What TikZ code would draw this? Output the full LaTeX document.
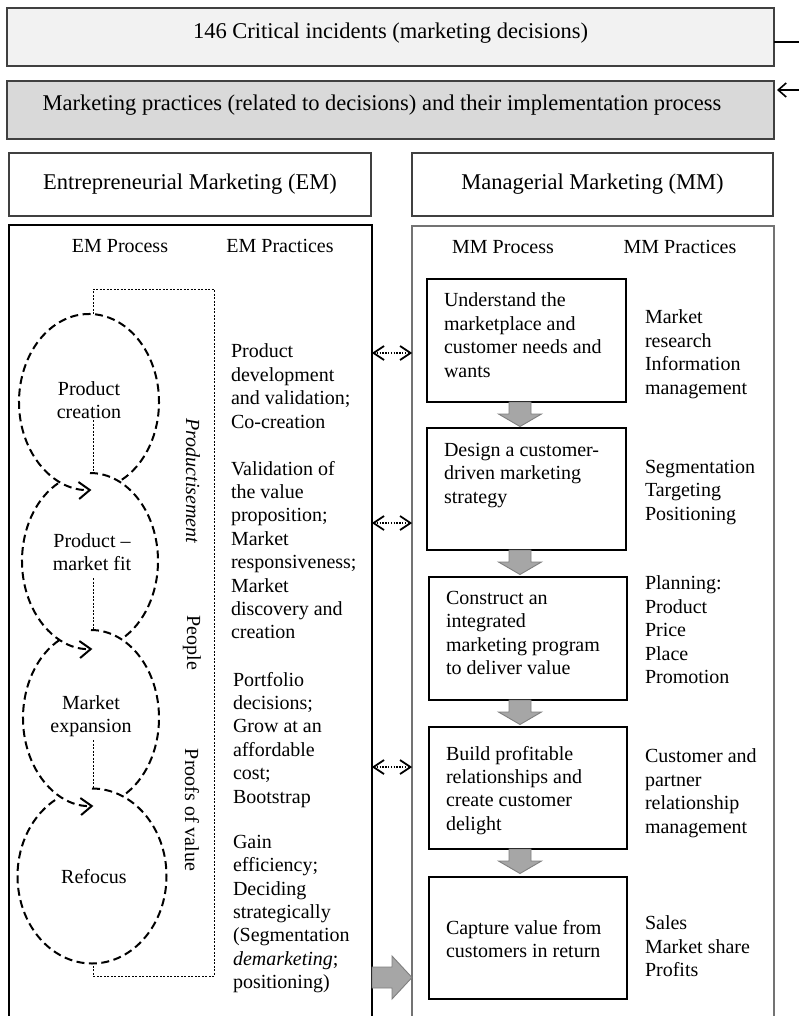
\documentclass[tikz,border=0pt]{standalone}
\usepackage{fontspec}
\setmainfont{Liberation Serif}
\usetikzlibrary{arrows.meta,calc}
\definecolor{lightbox}{HTML}{F2F2F2}
\definecolor{graybox}{HTML}{D9D9D9}
\definecolor{arrfill}{HTML}{A6A6A6}
\definecolor{arredge}{HTML}{7F7F7F}
\begin{document}
\begin{tikzpicture}[x=1pt,y=-1pt,
  every node/.style={inner sep=0pt, outer sep=0pt},
  body/.style={font=\fontsize{20}{23.4}\selectfont, align=left, anchor=north west},
  ctext/.style={font=\fontsize{20}{23.4}\selectfont, align=center},
  coltext/.style={font=\fontsize{20}{23.4}\selectfont},
  bigtext/.style={font=\fontsize{22.5}{26}\selectfont},
  frame/.style={draw=black!75, line width=1.4pt},
  mmbox/.style={draw=black, line width=1.5pt, fill=white},
  circ/.style={line width=2pt, dash pattern=on 8pt off 4.5pt},
  circarrow/.style={circ, -{Straight Barb[length=11pt,width=17pt,line width=2pt]}},
  bracket/.style={line width=0.8pt, dash pattern=on 2pt off 1.5pt},
  shaft/.style={line width=1.6pt, dash pattern=on 1.4pt off 1.4pt},
  head/.style={line width=1.8pt, solid, line join=miter},
  bigarrow/.style={fill=arrfill, draw=arredge, line width=0.9pt},
  downarr/.pic={\path[bigarrow] (-11,0) -- (11,0) -- (11,12) -- (21.5,12) -- (0,24.5) -- (-21.5,12) -- (-11,12) -- cycle;},
  rightarr/.pic={\path[bigarrow] (0,-10.5) -- (20,-10.5) -- (20,-21.5) -- (40,0) -- (20,21.5) -- (20,10.5) -- (0,10.5) -- cycle;}
]
\useasboundingbox (0,0) rectangle (799,1016);
\clip (0,0) rectangle (799,1016);
\fill[white] (0,0) rectangle (799,1016);

% top boxes
\node[frame, fill=lightbox, minimum width=767pt, minimum height=58pt] (top) at (390.5,37) {};
\node[bigtext] (toptext) at (390.5,33) {146 Critical incidents (marketing decisions)};
\node[frame, fill=graybox, minimum width=767pt, minimum height=58pt] (gbox) at (390.5,110) {};
\node[bigtext] (gtext) at (382,105) {Marketing practices (related to decisions) and their implementation process};
\coordinate (r1) at (799,42);
\coordinate (r2) at (799,90);
\draw[line width=1.6pt] (top.east |- r1) -- (r1);
\draw[line width=1.6pt, -{Straight Barb[length=8pt,width=14pt]}] (r2) -- ([xshift=3pt]gbox.east |- r2);

% headers
\node[frame, fill=white, minimum width=362pt, minimum height=63pt, bigtext] (emhead) at (190,184.5) {Entrepreneurial Marketing (EM)};
\node[frame, fill=white, minimum width=361pt, minimum height=63pt, bigtext] (mmhead) at (592.5,184.5) {Managerial Marketing (MM)};

% panels
\node[draw=black, line width=1.4pt, fill=white, minimum width=363pt, minimum height=805pt] (empanel) at (190.5,627.5) {};
\node[draw=black!55, line width=1.7pt, fill=white, minimum width=362pt, minimum height=804pt] (mmpanel) at (593,628) {};
\coordinate (s1) at (0,457);
\coordinate (s2) at (0,650);
\draw[line width=2.4pt] (empanel.east |- s1) -- (empanel.east |- s2);

\node[coltext] (emproc) at (120,246) {EM Process};
\node[coltext] (emprac) at (280,246) {EM Practices};
\node[coltext] (mmproc) at (503,247) {MM Process};
\node[coltext] (mmprac) at (680,247) {MM Practices};

% EM process cycle
\coordinate (o1) at (89,402);
\coordinate (o2) at (90,561);
\coordinate (o3) at (91,718);
\coordinate (o4) at (92,876);
\draw[bracket] (93,314) -- (93,289) -- (214,289) -- (214,976) -- (93,976) -- (93,963);
\draw[bracket] (93,420) -- (93,473);
\draw[bracket] (93,578) -- (93,630);
\draw[bracket] (93,740) -- (93,788);

\draw[circarrow] ($(o1)+(62:70 and 88)$) arc[start angle=62, end angle=-272, x radius=70, y radius=88];
\draw[circ] ($(o2)+(-90:68 and 88)$) arc[start angle=-90, end angle=62, x radius=68, y radius=88];
\draw[circarrow] ($(o2)+(-118:68 and 88)$) arc[start angle=-118, end angle=-272, x radius=68, y radius=88];
\draw[circ] ($(o3)+(-90:68 and 88)$) arc[start angle=-90, end angle=62, x radius=68, y radius=88];
\draw[circarrow] ($(o3)+(-118:68 and 88)$) arc[start angle=-118, end angle=-272, x radius=68, y radius=88];
\draw[circ] ($(o4)+(-90:74.5 and 87.5)$) arc[start angle=-90, end angle=242, x radius=74.5, y radius=87.5];

\node[ctext] (c1) at (89,400) {Product\\creation};
\node[ctext] (c2) at (92,552) {Product --\\market fit};
\node[ctext] (c3) at (91,716) {Market\\expansion};
\node[ctext] (c4) at (94,877) {Refocus};

\node[coltext, rotate=-90] (prodn) at (193,481) {\itshape Productisement};
\node[coltext, rotate=-90] (peop) at (192,643) {People};
\node[coltext, rotate=-90] (proof) at (192,810) {Proofs of value};

% EM practices
\node[body] (p1) at (231,344) {Product\\development\\and validation;\\Co-creation};
\node[body] (p2) at (231,461) {Validation of\\the value\\proposition;\\Market\\responsiveness;\\Market\\discovery and\\creation};
\node[body] (p3) at (233,672) {Portfolio\\decisions;\\Grow at an\\affordable\\cost;\\Bootstrap};
\node[body] (p4) at (233,835) {Gain\\efficiency;\\Deciding\\strategically\\(Segmentation\\\textit{demarketing};\\positioning)};

% MM process boxes
\node[mmbox, minimum width=199pt, minimum height=123pt] (b1) at (526.5,340.5) {};
\node[mmbox, minimum width=199pt, minimum height=122pt] (b2) at (526.5,489) {};
\node[mmbox, minimum width=198pt, minimum height=123pt] (b3) at (528,638.5) {};
\node[mmbox, minimum width=198pt, minimum height=122pt] (b4) at (528,788) {};
\node[mmbox, minimum width=198pt, minimum height=122pt] (b5) at (528,938) {};

\node[body] (t1) at (444,293) {Understand the\\marketplace and\\customer needs and\\wants};
\node[body] (t2) at (444,443) {Design a customer-\\driven marketing\\strategy};
\node[body] (t3) at (446,591) {Construct an\\integrated\\marketing program\\to deliver value};
\node[body] (t4) at (446,746) {Build profitable\\relationships and\\create customer\\delight};
\node[body] (t5) at (446,920) {Capture value from\\customers in return};

\node[body] (q1) at (645,310) {Market\\research\\Information\\management};
\node[body] (q2) at (645,460) {Segmentation\\Targeting\\Positioning};
\node[body] (q3) at (645,576) {Planning:\\Product\\Price\\Place\\Promotion};
\node[body] (q4) at (645,749) {Customer and\\partner\\relationship\\management};
\node[body] (q5) at (645,916) {Sales\\Market share\\Profits};

\coordinate (ax) at (520,0);
\pic at (b1.south -| ax) {downarr};
\pic at (b2.south -| ax) {downarr};
\pic at (b3.south -| ax) {downarr};
\pic at (b4.south -| ax) {downarr};

% connectors between panels (dotted shaft, solid open heads)
\foreach \yy/\nm in {353/d1, 523/d2, 767/d3}{
  \coordinate (\nm) at (0,\yy);
  \coordinate (\nm l) at (empanel.east |- \nm);
  \coordinate (\nm r) at (mmpanel.west |- \nm);
  \draw[shaft] ($(\nm l)+(2,0)$) -- ($(\nm r)+(-2,0)$);
  \draw[head] ($(\nm l)+(12,-7)$) -- ($(\nm l)+(1.5,0)$) -- ($(\nm l)+(12,7)$);
  \draw[head] ($(\nm r)+(-12,-7)$) -- ($(\nm r)+(-1.5,0)$) -- ($(\nm r)+(-12,7)$);
}
\coordinate (ry) at (0,977.5);
\pic at (empanel.east |- ry) {rightarr};
\end{tikzpicture}
\end{document}
